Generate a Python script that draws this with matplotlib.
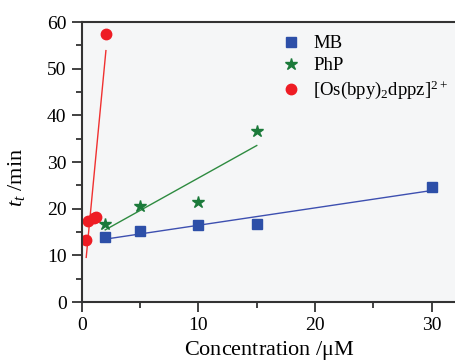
import numpy as np
import matplotlib.pyplot as plt
from matplotlib.ticker import MultipleLocator

plt.rcParams['font.family'] = 'Liberation Serif'
plt.rcParams['mathtext.fontset'] = 'custom'
plt.rcParams['mathtext.rm'] = 'Liberation Serif'
plt.rcParams['mathtext.it'] = 'Liberation Serif:italic'

# data
mb_x = [2, 5, 10, 15, 30]
mb_y = [14.0, 15.3, 16.6, 16.7, 24.7]
php_x = [2, 5, 10, 15]
php_y = [16.8, 20.7, 21.4, 36.7]
os_x = [0.34, 0.54, 1.03, 1.17, 2.06]
os_y = [13.3, 17.3, 18.0, 18.2, 57.5]

# linear fits as drawn (slope, intercept) and x range
mb_fit = (0.372, 12.75)
php_fit = (1.39, 12.7)
os_fit = (26.2, -0.1)
mb_rng = [2, 30]
php_rng = [2, 15]
os_rng = [0.37, 2.06]

fig = plt.figure(figsize=(4.55, 3.61), dpi=100)
sub = fig.add_axes([0.180, 0.163, 0.825, 0.776])
sub.set_facecolor('#f5f6f7')

for rng, fit, c in [(mb_rng, mb_fit, '#3d4fb0'), (php_rng, php_fit, '#2e8b40'), (os_rng, os_fit, '#f03030')]:
    xx = np.array(rng)
    sub.plot(xx, fit[0] * xx + fit[1], color=c, linewidth=1.0)

sub.plot(mb_x, mb_y, 's', color='#2d4fa8', markersize=6.5, linestyle='none', label='MB')
sub.plot(php_x, php_y, '*', color='#1b7a3a', markersize=9, linestyle='none', label='PhP')
sub.plot(os_x, os_y, 'o', color='#ee1c24', markersize=7.5, linestyle='none',
         label=r'[Os(bpy)$_2$dppz]$^{2+}$')

sub.set_xlim(0, 32.2)
sub.set_ylim(0, 60)
sub.xaxis.set_major_locator(MultipleLocator(10))
sub.xaxis.set_minor_locator(MultipleLocator(5))
sub.yaxis.set_major_locator(MultipleLocator(10))
sub.yaxis.set_minor_locator(MultipleLocator(5))
sub.tick_params(which='major', length=7, width=1.3, labelsize=14, color='#333333', pad=4)
sub.tick_params(which='minor', length=4, width=1.3, color='#333333')
for s in sub.spines.values():
    s.set_linewidth(1.5)
    s.set_color('#333333')

sub.set_xlabel(r'Concentration /$\mathrm{\mu}$M', fontsize=16, labelpad=3)
sub.set_ylabel(r'$t_t$ /min', fontsize=16)
sub.yaxis.set_label_coords(-0.147, 0.446)

sub.legend(loc='upper left', bbox_to_anchor=(0.532, 0.953), frameon=False, fontsize=13.5,
           handlelength=1.0, handletextpad=0.7, labelspacing=0.25, borderpad=0,
           borderaxespad=0)

fig.savefig('out.png', dpi=100)
